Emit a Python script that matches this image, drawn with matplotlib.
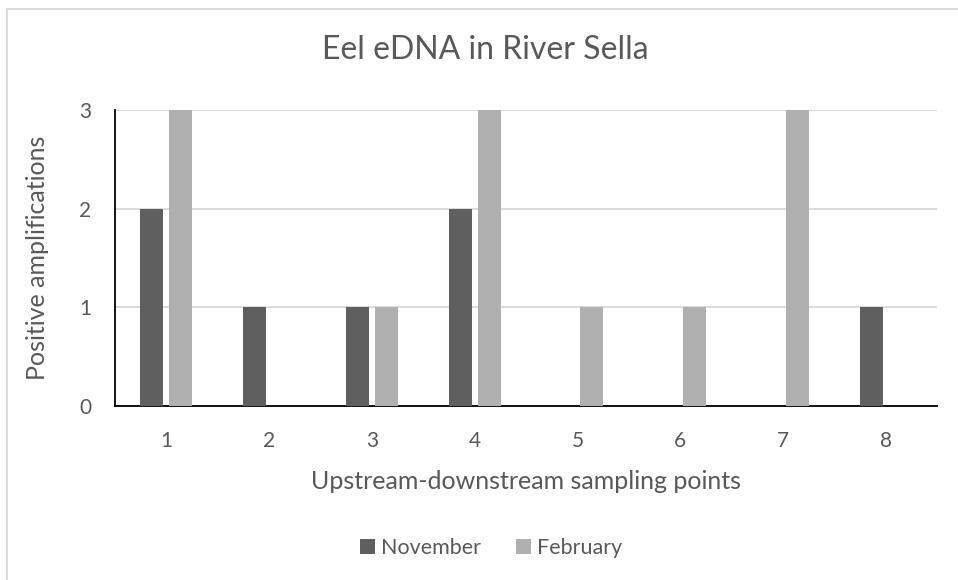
import matplotlib
matplotlib.use("Agg")
import matplotlib.pyplot as plt
from matplotlib.patches import Rectangle
import numpy as np

plt.rcParams['font.family'] = ['Lato', 'DejaVu Sans']

# Data
points = ["1", "2", "3", "4", "5", "6", "7", "8"]
november = [2, 1, 1, 2, 0, 0, 0, 1]
february = [3, 0, 1, 3, 1, 1, 3, 0]
y_ticks = [0, 1, 2, 3]

TEXT = "#595959"
NOV_C = "#5f5f5f"
FEB_C = "#b0b0b0"

fig = plt.figure(figsize=(9.58, 5.80), dpi=100)
W, H = 958, 580
ax = fig.add_axes([115 / W, 1 - 406 / H, (937 - 115) / W, (406 - 110) / H])

x = np.arange(len(points))
bw = 0.224
off = 0.141
ax.bar(x - off, november, bw, color=NOV_C, label="November", zorder=3)
ax.bar(x + off, february, bw, color=FEB_C, label="February", zorder=3)

ax.set_xlim(-0.5, len(points) - 0.5)
ax.set_ylim(0, 3)
ax.set_yticks(y_ticks)
ax.set_xticks(x)
ax.set_xticklabels(points)
ax.yaxis.grid(True, color="#d9d9d9", linewidth=1.3, zorder=0)
ax.set_axisbelow(True)
for s in ["top", "right"]:
    ax.spines[s].set_visible(False)
for s in ["left", "bottom"]:
    ax.spines[s].set_color("black")
    ax.spines[s].set_linewidth(1.3)
ax.tick_params(length=0, labelsize=15, colors=TEXT)
ax.tick_params(axis="x", pad=18)
ax.tick_params(axis="y", pad=17)

ax.set_xlabel("Upstream-downstream sampling points", fontsize=18, color=TEXT, labelpad=14)
ax.set_ylabel("Positive amplifications", fontsize=18, color=TEXT, labelpad=22)

fig.text(485 / W, 1 - 50 / H, "Eel eDNA in River Sella", fontsize=23, color=TEXT,
         ha="center", va="center")

leg = fig.legend(loc="center", bbox_to_anchor=(491 / W, 1 - 548 / H), ncol=2,
                 frameon=False, fontsize=15.5, handlelength=0.7, handleheight=0.7,
                 handletextpad=0.3, columnspacing=1.6)
for t in leg.get_texts():
    t.set_color(TEXT)

# chart area border
fig.patches.append(Rectangle((7 / W, -0.1), 1.2, 1 - 9 / H + 0.1, transform=fig.transFigure,
                             fill=False, edgecolor="#d9d9d9", linewidth=1.3))

fig.savefig("out.png", dpi=100)
